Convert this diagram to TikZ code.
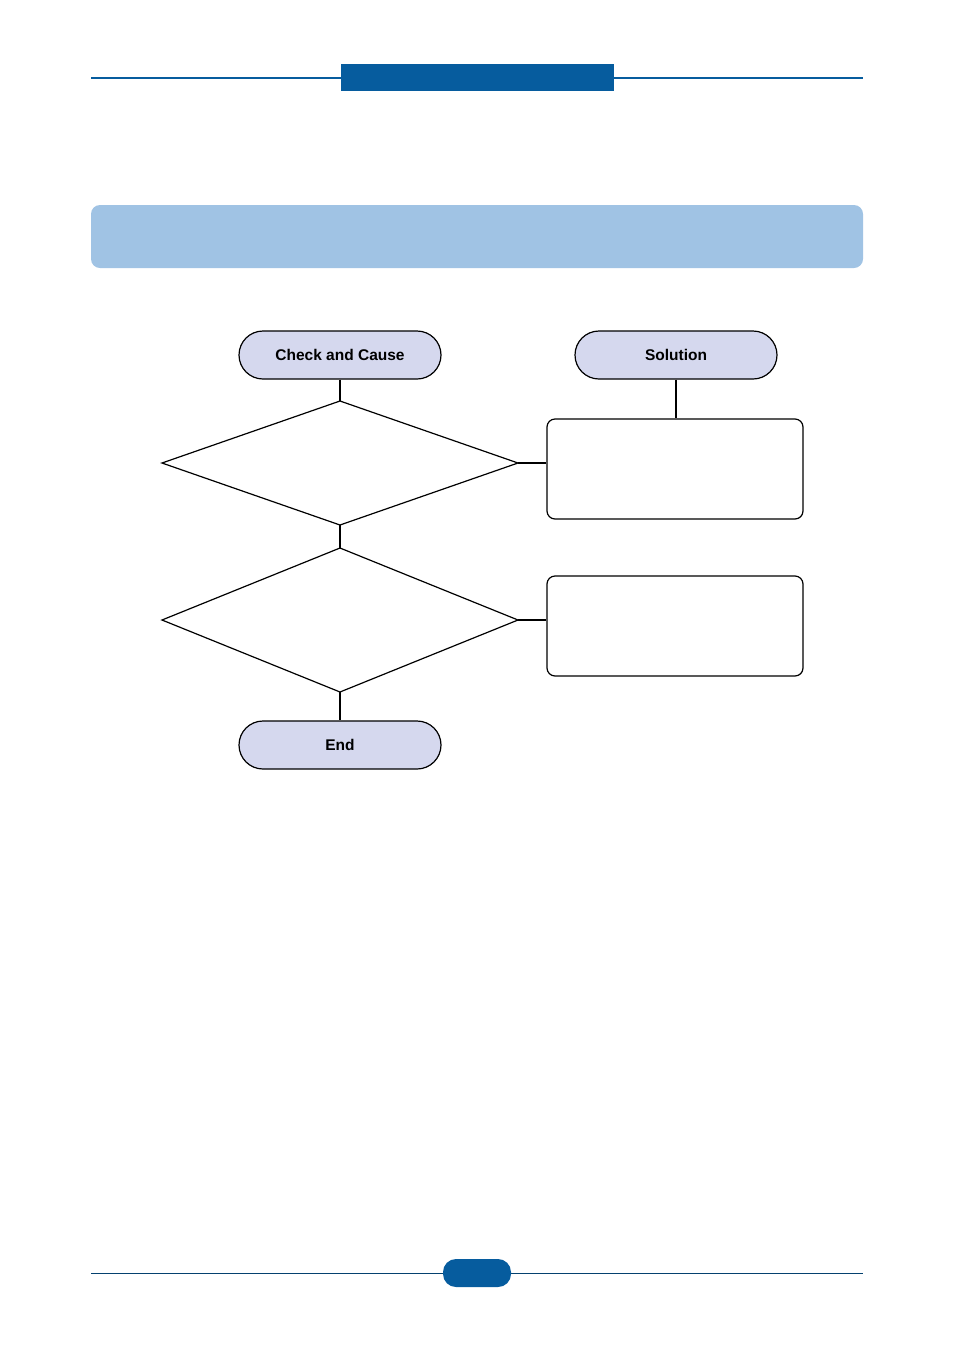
\documentclass[tikz,border=0pt]{standalone}
\usepackage{fontspec}
\setmainfont{Liberation Sans}
\usetikzlibrary{positioning, shapes.geometric}

\definecolor{headblue}{RGB}{6,92,158}
\definecolor{bandblue}{RGB}{160,195,228}
\definecolor{termfill}{RGB}{213,216,238}

\begin{document}
\begin{tikzpicture}[
        x=1pt, y=-1pt,
        term/.style = {draw, fill=termfill, line width=1.2pt, rounded corners=24pt,
            minimum width=202pt, minimum height=48pt, inner sep=0pt,
            text depth=0pt, text height=11.5pt,
            font=\fontsize{15.5}{18}\selectfont\bfseries},
        decide/.style = {draw, diamond, line width=1.2pt, inner sep=0pt, outer sep=0pt,
            minimum width=356pt, minimum height=#1},
        solbox/.style = {draw, line width=1.2pt, rounded corners=8pt,
            minimum width=256pt, minimum height=100pt},
        link/.style = {line width=1.2pt},
        ]
        \useasboundingbox (0,0) rectangle (954,1350);
        % header and footer
        \draw[headblue, line width=2pt] (91,78) -- (863,78);
        \fill[headblue] (341,64) rectangle (614,91);
        \fill[bandblue, rounded corners=9pt] (91,205) rectangle (863,268);
        \draw[headblue!70!black, line width=0.8pt] (91,1273) -- (863,1273);
        \fill[headblue, rounded corners=13pt] (443,1259) rectangle (511,1287);

        % flowchart
        \node[term] (cause) at (340,355) {Check and Cause};
        \node[term] (sol) at (676,355) {Solution};
        \node[decide=124pt] (d1) at (340,463) {};
        \node[decide=144pt] (d2) at (340,620) {};
        \node[solbox] (s1) at (675,469) {};
        \node[solbox] (s2) at (675,626) {};
        \node[term] (end) at (340,745) {End};

        \draw[link] (cause) -- (d1.north);
        \draw[link] (sol.south) -- (sol.south |- s1.north);
        \draw[link] (d1.east) -- (d1.east -| s1.west);
        \draw[link] (d1.south) -- (d2.north);
        \draw[link] (d2.east) -- (d2.east -| s2.west);
        \draw[link] (d2.south) -- (end);
    \end{tikzpicture}
\end{document}
